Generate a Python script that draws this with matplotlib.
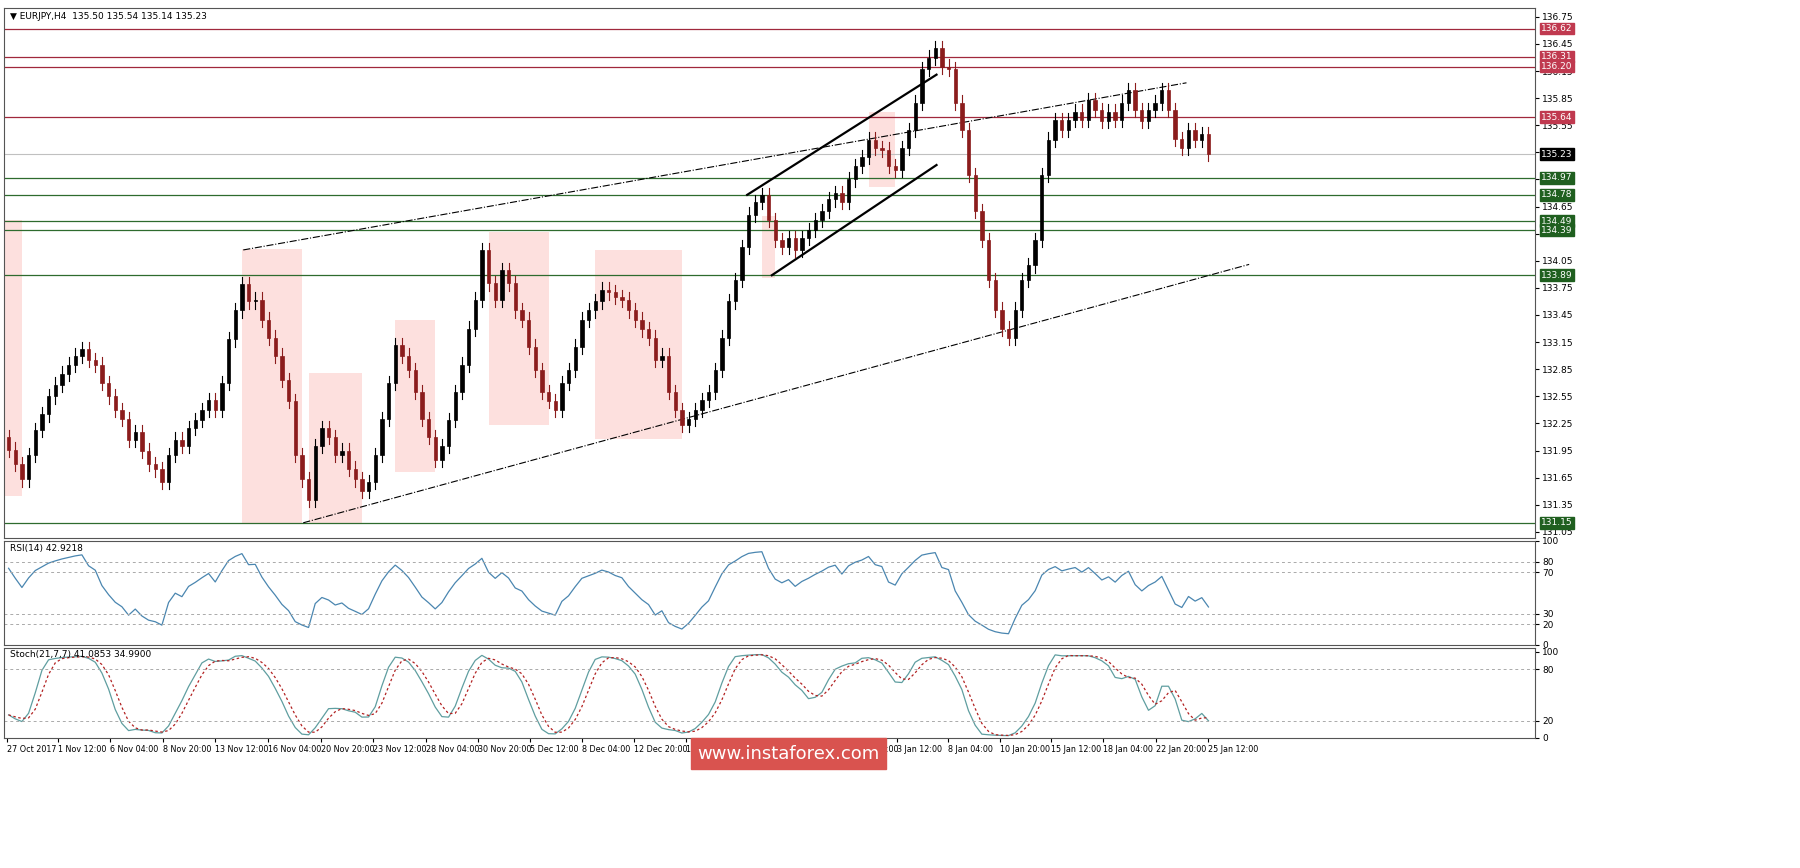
import numpy as np
import matplotlib.pyplot as plt
from matplotlib.patches import Rectangle

# closes (each candle ~ two H4 bars)
closes = [131.96, 131.8, 131.63,
          131.9, 132.18, 132.35, 132.55, 132.68,
          132.8, 132.9, 133.0, 133.07,
          132.95, 132.9, 132.7, 132.55, 132.4,
          132.3, 132.07, 132.15, 131.95, 131.8, 131.74,
          131.6, 131.9, 132.07, 132.0, 132.2, 132.29,
          132.4, 132.51, 132.4, 132.7, 133.18,
          133.5, 133.79,
          133.6, 133.62, 133.4, 133.2, 133.0, 132.73, 132.5, 131.9, 131.63,
          131.4, 132.0, 132.2, 132.1, 131.9, 131.95, 131.75, 131.63,
          131.5, 131.6, 131.9, 132.3, 132.7, 133.12,
          133.0, 132.84, 132.6, 132.3, 132.1, 131.85, 132.0, 132.29,
          132.6, 132.9, 133.3, 133.62, 134.17,
          133.8, 133.62, 133.95, 133.8, 133.5, 133.4, 133.1, 132.84, 132.6, 132.5, 132.4,
          132.7, 132.84, 133.1, 133.4, 133.5, 133.6, 133.73,
          133.7, 133.65, 133.62, 133.5, 133.4, 133.29, 133.2, 132.95, 133.0, 132.6, 132.4, 132.23,
          132.3, 132.4, 132.51, 132.6, 132.84, 133.2, 133.6, 133.84, 134.2, 134.56,
          134.7, 134.78, 134.5, 134.28, 134.2, 134.3, 134.17,
          134.3, 134.39, 134.5, 134.6, 134.73, 134.8, 134.7, 134.95, 135.1, 135.2, 135.39,
          135.3, 135.28, 135.1, 135.06, 135.3, 135.5,
          135.8, 136.17, 136.3, 136.4,
          136.2, 136.17, 135.8, 135.5, 135.0, 134.6, 134.28, 133.84, 133.51, 133.3,
          133.2, 133.51, 133.84, 134.0, 134.28, 135.0, 135.39, 135.61,
          135.5, 135.61, 135.7, 135.61, 135.83, 135.72, 135.6, 135.7, 135.61, 135.8, 135.94,
          135.72, 135.6, 135.72, 135.8, 135.94, 135.72, 135.4, 135.3, 135.5, 135.39, 135.45, 135.23]
first_open = 132.1

red_levels = [136.62, 136.31, 136.20, 135.64]
green_levels = [134.97, 134.78, 134.49, 134.39, 133.89, 131.15]
last_price = 135.23

# pink zones: (start idx, end idx, low, high)
zones = [(-1, 2, 131.45, 134.50), (35, 44, 131.15, 134.18), (45, 53, 131.15, 132.81),
         (58, 64, 131.71, 133.39), (72, 81, 132.23, 134.37), (88, 101, 132.08, 134.17),
         (113, 115, 133.86, 134.55), (129, 133, 134.87, 135.70)]
# trend lines: (x0, y0, x1, y1)
dash_lines = [(35.2, 134.17, 176.7, 136.02), (44.2, 131.15, 186.1, 134.01)]
chan_lines = [(110.8, 134.78, 139.2, 136.11), (114.5, 133.89, 139.2, 135.11)]

xlabels = ["27 Oct 2017", "1 Nov 12:00", "6 Nov 04:00", "8 Nov 20:00", "13 Nov 12:00",
           "16 Nov 04:00", "20 Nov 20:00", "23 Nov 12:00", "28 Nov 04:00", "30 Nov 20:00",
           "5 Dec 12:00", "8 Dec 04:00", "12 Dec 20:00", "15 Dec 12:00", "20 Dec 04:00",
           "22 Dec 20:00", "29 Dec 16:00", "3 Jan 12:00", "8 Jan 04:00", "10 Jan 20:00",
           "15 Jan 12:00", "18 Jan 04:00", "22 Jan 20:00", "25 Jan 12:00"]
xlabel_px = [3, 55, 107, 160, 212, 265, 318, 370, 423, 475, 528, 580, 632, 684, 737,
             790, 843, 895, 946, 998, 1050, 1102, 1155, 1207]

c = np.array(closes)
o = np.concatenate([[first_open], c[:-1]])
wick = 0.08
hi = np.maximum(o, c) + wick
lo = np.minimum(o, c) - wick
n = len(c)
px = 6.68  # pixels per candle
def px2i(p):
    return (p - 5) / px

def rsi(x, per):
    d = np.diff(x, prepend=x[0])
    up = np.where(d > 0, d, 0); dn = np.where(d < 0, -d, 0)
    au = np.zeros(len(x)); ad = np.zeros(len(x))
    au[0], ad[0] = up[:per].mean(), dn[:per].mean()
    for i in range(1, len(x)):
        au[i] = (au[i-1] * (per - 1) + up[i]) / per
        ad[i] = (ad[i-1] * (per - 1) + dn[i]) / per
    return 100 - 100 / (1 + au / np.maximum(ad, 1e-9))

def sma(x, per):
    return np.array([x[max(0, i-per+1):i+1].mean() for i in range(len(x))])

r = rsi(c, 7)
k_raw = np.array([(c[i] - lo[max(0, i-9):i+1].min()) /
                  (hi[max(0, i-9):i+1].max() - lo[max(0, i-9):i+1].min()) * 100 for i in range(n)])
k = sma(k_raw, 3)
dline = sma(k, 3)

fig = plt.figure(figsize=(18, 8.68), dpi=100)
L, W = 0.002, 0.851
ax = fig.add_axes([L, 0.380, W, 0.611])
ax_r = fig.add_axes([L, 0.257, W, 0.120], sharex=ax)
ax_s = fig.add_axes([L, 0.150, W, 0.104], sharex=ax)

xs = np.arange(n)
for z in zones:
    ax.add_patch(Rectangle((z[0], z[2]), z[1] - z[0], z[3] - z[2], color='#fde0de', lw=0, zorder=0))
for lv in red_levels:
    ax.axhline(lv, color='#a0283c', lw=0.9, zorder=1)
for lv in green_levels:
    ax.axhline(lv, color='#2e6b2e', lw=0.9, zorder=1)
ax.axhline(last_price, color='#c0c0c0', lw=0.8, zorder=1)
for l in dash_lines:
    ax.plot([l[0], l[2]], [l[1], l[3]], color='black', lw=0.8, ls='-.', zorder=2)
for l in chan_lines:
    ax.plot([l[0], l[2]], [l[1], l[3]], color='black', lw=1.6, zorder=2)

for i in range(n):
    col = 'black' if c[i] >= o[i] else '#8b1c1c'
    ax.plot([i, i], [lo[i], hi[i]], color=col, lw=0.8, zorder=3)
    ax.add_patch(Rectangle((i - 0.25, min(o[i], c[i])), 0.5, max(abs(c[i] - o[i]), 0.01),
                           facecolor=col, edgecolor=col, lw=0.5, zorder=4))

xmax = px2i(1535)
ax.set_xlim(px2i(0), xmax)
ax.set_ylim(130.98, 136.85)
yt = np.round(np.arange(131.05, 136.8, 0.30), 2)
for a in (ax, ax_r, ax_s):
    a.yaxis.tick_right()
    a.tick_params(axis='y', labelsize=6.5, length=3, pad=2)
    a.tick_params(axis='x', length=0)
    for s in a.spines.values():
        s.set_color('#555555'); s.set_linewidth(0.8)
ax.set_yticks(yt)
ax.set_yticklabels([f"{v:.2f}" for v in yt])

def box(a, y, txt, fc):
    a.annotate(txt, xy=(1.0, y), xycoords=('axes fraction', 'data'), xytext=(4, 0),
               textcoords='offset points', va='center', ha='left', fontsize=6.5, color='white',
               bbox=dict(boxstyle='square,pad=0.15', fc=fc, ec=fc))
for lv in red_levels:
    box(ax, lv, f"{lv:.2f}", '#c0394f')
for lv in green_levels:
    box(ax, lv, f"{lv:.2f}", '#1f5f1f')
box(ax, last_price, f"{last_price:.2f}", 'black')
ax.text(0.004, 0.993, "\u25bc EURJPY,H4  135.50 135.54 135.14 135.23", transform=ax.transAxes,
        fontsize=6.5, va='top')

ax_r.plot(xs, r, color='#4a86b0', lw=0.9)
for lv in (80, 70, 30, 20):
    ax_r.axhline(lv, color='#aaaaaa', lw=0.7, ls=(0, (3, 3)))
ax_r.set_ylim(0, 100)
ax_r.set_yticks([0, 20, 30, 70, 80, 100])
ax_r.text(0.004, 0.97, "RSI(14) 42.9218", transform=ax_r.transAxes, fontsize=6.5, va='top')

ax_s.plot(xs, k, color='#5f9ea0', lw=0.9)
ax_s.plot(xs, dline, color='#b22222', lw=0.9, ls=(0, (2, 2)))
for lv in (80, 20):
    ax_s.axhline(lv, color='#aaaaaa', lw=0.7, ls=(0, (3, 3)))
ax_s.set_ylim(0, 105)
ax_s.set_yticks([0, 20, 80, 100])
ax_s.text(0.004, 0.97, "Stoch(21,7,7) 41.0853 34.9900", transform=ax_s.transAxes, fontsize=6.5, va='top')

plt.setp(ax.get_xticklabels(), visible=False)
plt.setp(ax_r.get_xticklabels(), visible=False)
ax_s.set_xticks([px2i(p) for p in xlabel_px])
ax_s.set_xticklabels(xlabels, fontsize=5.8, ha='left')
ax_s.tick_params(axis='x', length=3, pad=2)

fig.text(0.438, 0.142, "www.instaforex.com", fontsize=13, color='white', ha='center', va='top',
         zorder=10, bbox=dict(boxstyle='square,pad=0.35', fc='#d9534f', ec='#d9534f'))

fig.savefig("out.png", dpi=100, facecolor='white')
